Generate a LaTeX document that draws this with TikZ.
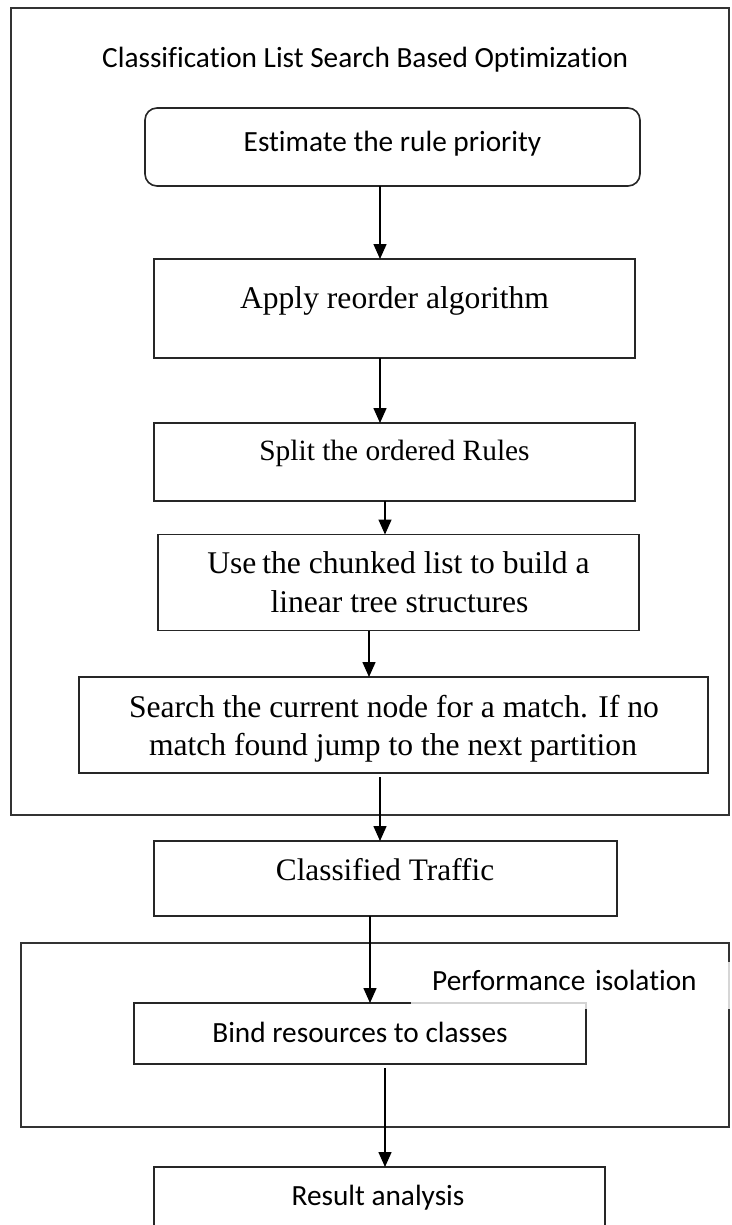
\documentclass[tikz,border=0pt]{standalone}
\usepackage{fontspec}
\setmainfont{Liberation Serif}
\newfontfamily\calfont[Ligatures=NoCommon]{Carlito}
\usetikzlibrary{arrows.meta}
\begin{document}
\begin{tikzpicture}[x=1pt,y=-1pt,
  box/.style={draw=black!85, line width=1.6pt, fill=none, inner sep=0pt, outer sep=0pt, rectangle},
  frame/.style={draw=black!80, line width=1.6pt, inner sep=0pt, outer sep=0pt, rectangle},
  serif/.style={anchor=base, inner sep=0pt, font=\fontsize{31.6}{39}\selectfont},
  sans/.style={anchor=base, inner sep=0pt, font=\calfont\fontsize{29.3}{35}\selectfont},
  arr/.style={draw=black, line width=1.5pt, -{Triangle[width=13pt,length=15pt]}}]
\useasboundingbox (0,0) rectangle (731,1225);
\clip (0,0) rectangle (731,1225);
\fill[white] (0,0) rectangle (731,1225);

% outer frames
\node[frame, minimum width=718, minimum height=807] (outerA) at (370,411.5) {};
\node[frame, minimum width=708, minimum height=184] (outerB) at (375,1035) {};

% title
\node[sans, anchor=base west] (title) at (102,68) {Classification List Search Based Optimization};

% boxes
\node[box, rounded corners=12pt, minimum width=495, minimum height=78] (estimate) at (392.5,147) {};
\node[sans] (testimate) at (392.5,152) {Estimate the rule priority};

\node[box, minimum width=481, minimum height=99] (apply) at (394.5,308.5) {};
\node[serif] (tapply) at (394.5,308) {Apply reorder algorithm};

\node[box, minimum width=481, minimum height=78] (split) at (394.5,462) {};
\node[serif, font=\fontsize{29.4}{36}\selectfont] (tsplit) at (394.5,460) {Split the ordered Rules};

\node[box, minimum width=481, minimum height=96] (use) at (398.5,582.5) {};
\node[serif] (tuse1) at (398.5,573) {Use\kern-2pt{} the chunked list to build a};
\node[serif] (tuse2) at (399.5,612) {linear tree structures};

\node[box, minimum width=629, minimum height=96] (search) at (393.5,725) {};
\node[serif] (tsearch1) at (394,717) {Search the current node for a match. If no};
\node[serif] (tsearch2) at (393,755) {match found jump to the next partition};

\node[box, minimum width=463, minimum height=75] (classified) at (385.5,878.5) {};
\node[serif, font=\fontsize{31.3}{38}\selectfont] (tclassified) at (385,880) {Classified Traffic};

\node[box, minimum width=452, minimum height=61] (bind) at (360,1033.5) {};
\node[sans] (tbind) at (360,1042) {Bind resources to classes};

\node[box, minimum width=451, minimum height=100] (result) at (379.5,1217) {};
\node[sans] (tresult) at (378,1205) {Result analysis};

% label of second frame (with its light background)
\node[anchor=base west, font=\calfont\fontsize{29.3}{35}\selectfont, fill=white, fill opacity=0.8, text opacity=1,
      inner xsep=21pt, inner ysep=6pt, text height=22pt, text depth=13pt, text width=310pt, align=left]
      (perf) at (411,990) {\mbox{Performance isolation}};

% connectors
\draw[arr] (estimate.south -| 380,0) -- (apply.north -| 380,0);
\draw[arr] (apply.south -| 380,0) -- (split.north -| 380,0);
\draw[arr] (split.south -| 385,0) -- (use.north -| 385,0);
\draw[arr] (use.south -| 369,0) -- (search.north -| 369,0);
\draw[arr, shorten <=4pt] (search.south -| 380,0) -- (classified.north -| 380,0);
\draw[arr] (classified.south -| 370,0) -- (bind.north -| 370,0);
\draw[arr, shorten <=4pt] (bind.south -| 385,0) -- (result.north -| 385,0);
\end{tikzpicture}
\end{document}
